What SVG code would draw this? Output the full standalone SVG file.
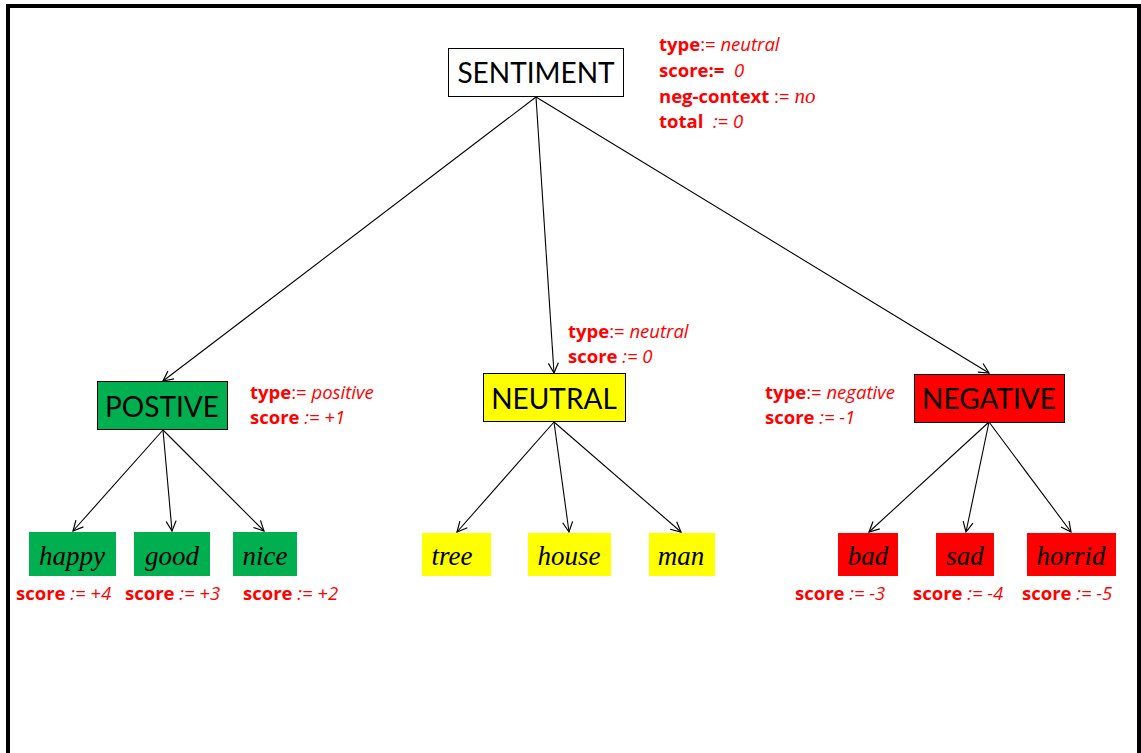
<svg xmlns="http://www.w3.org/2000/svg" width="1141" height="753" viewBox="0 0 1141 753">
  <defs>
    <marker id="arrow" viewBox="0 0 12 12" refX="11" refY="6" markerWidth="12" markerHeight="12" markerUnits="userSpaceOnUse" orient="auto">
      <path d="M1,1 L11,6 L1,11" fill="none" stroke="#000" stroke-width="1.2"/>
    </marker>
  </defs>
  <style>
    .box { stroke: #000; stroke-width: 1; }
    .leaf { stroke: none; }
    .green { fill: #00B050; }
    .yellow { fill: #FFFF00; }
    .red { fill: #FF0000; }
    .white { fill: #fff; }
    .title { font-family: Lato, "Liberation Sans", sans-serif; font-size: 28px; fill: #000; text-anchor: middle; }
    .word { font-family: "Liberation Serif", serif; font-style: italic; font-size: 27px; fill: #000; text-anchor: middle; }
    .attr { font-family: "Open Sans", "Liberation Sans", sans-serif; font-size: 18.5px; fill: #FF0000; }
    .k { font-weight: bold; }
    .v { font-style: italic; }
    .serif { font-family: "Liberation Serif", serif; font-style: italic; font-size: 21px; }
    .edge { stroke: #000; stroke-width: 1.1; fill: none; marker-end: url(#arrow); }
  </style>

  <!-- page frame (open at the bottom) -->
  <rect class="white" x="0" y="0" width="1141" height="753"/>
  <path d="M8,753 V6 H1139 V753" fill="none" stroke="#000" stroke-width="4"/>

  <!-- connectors -->
  <g id="connectors">
    <line class="edge" x1="536" y1="97" x2="163" y2="381"/>
    <line class="edge" x1="536" y1="97" x2="554" y2="373"/>
    <line class="edge" x1="536" y1="97" x2="989" y2="373"/>
    <line class="edge" x1="163" y1="430" x2="73" y2="531"/>
    <line class="edge" x1="163" y1="430" x2="172" y2="531"/>
    <line class="edge" x1="163" y1="430" x2="264" y2="531"/>
    <line class="edge" x1="554" y1="422" x2="457" y2="532"/>
    <line class="edge" x1="554" y1="422" x2="569" y2="532"/>
    <line class="edge" x1="554" y1="422" x2="681" y2="532"/>
    <line class="edge" x1="989" y1="422" x2="869" y2="532"/>
    <line class="edge" x1="989" y1="422" x2="966" y2="532"/>
    <line class="edge" x1="989" y1="422" x2="1071" y2="532"/>
  </g>

  <!-- root -->
  <g id="sentiment">
    <rect class="box white" x="448.5" y="48.5" width="175" height="48"/>
    <text class="title" x="536" y="83">SENTIMENT</text>
    <text class="attr" x="659" y="51"><tspan class="k">type</tspan><tspan>:= </tspan><tspan class="v">neutral</tspan></text>
    <text class="attr" x="659" y="77"><tspan class="k">score:=</tspan><tspan class="v" xml:space="preserve">  0</tspan></text>
    <text class="attr" x="659" y="103"><tspan class="k">neg-context</tspan><tspan xml:space="preserve"> := </tspan><tspan class="serif">no</tspan></text>
    <text class="attr" x="659" y="128"><tspan class="k">total</tspan><tspan class="v" xml:space="preserve">  := 0</tspan></text>
  </g>

  <!-- category nodes -->
  <g id="positive">
    <rect class="box green" x="97.5" y="381.5" width="130" height="48"/>
    <text class="title" x="162" y="417">POSTIVE</text>
    <text class="attr" x="250" y="399"><tspan class="k">type</tspan><tspan>:= </tspan><tspan class="v">positive</tspan></text>
    <text class="attr" x="250" y="424"><tspan class="k">score</tspan><tspan class="v" xml:space="preserve"> := +1</tspan></text>
  </g>
  <g id="neutral">
    <rect class="box yellow" x="483.5" y="373.5" width="142" height="48"/>
    <text class="title" x="554" y="409">NEUTRAL</text>
    <text class="attr" x="568" y="338"><tspan class="k">type</tspan><tspan>:= </tspan><tspan class="v">neutral</tspan></text>
    <text class="attr" x="568" y="363"><tspan class="k">score</tspan><tspan class="v" xml:space="preserve"> := 0</tspan></text>
  </g>
  <g id="negative">
    <rect class="box red" x="914.5" y="374.5" width="150" height="48"/>
    <text class="title" x="989" y="409">NEGATIVE</text>
    <text class="attr" x="765" y="399"><tspan class="k">type</tspan><tspan>:= </tspan><tspan class="v">negative</tspan></text>
    <text class="attr" x="765" y="424"><tspan class="k">score</tspan><tspan class="v" xml:space="preserve"> := -1</tspan></text>
  </g>

  <!-- leaf words -->
  <g id="happy">
    <rect class="leaf green" x="29" y="532" width="87" height="44"/>
    <text class="word" x="72" y="565">happy</text>
    <text class="attr" x="16" y="600"><tspan class="k">score</tspan><tspan class="v" xml:space="preserve"> := +4</tspan></text>
  </g>
  <g id="good">
    <rect class="leaf green" x="134" y="532" width="76" height="44"/>
    <text class="word" x="172" y="565">good</text>
    <text class="attr" x="125" y="600"><tspan class="k">score</tspan><tspan class="v" xml:space="preserve"> := +3</tspan></text>
  </g>
  <g id="nice">
    <rect class="leaf green" x="233" y="532" width="64" height="44"/>
    <text class="word" x="265" y="565">nice</text>
    <text class="attr" x="243" y="600"><tspan class="k">score</tspan><tspan class="v" xml:space="preserve"> := +2</tspan></text>
  </g>
  <g id="tree">
    <rect class="leaf yellow" x="422" y="533" width="69" height="43"/>
    <text class="word" x="452" y="565">tree</text>
  </g>
  <g id="house">
    <rect class="leaf yellow" x="528" y="533" width="83" height="43"/>
    <text class="word" x="569" y="565">house</text>
  </g>
  <g id="man">
    <rect class="leaf yellow" x="649" y="533" width="66" height="43"/>
    <text class="word" x="681" y="565">man</text>
  </g>
  <g id="bad">
    <rect class="leaf red" x="838" y="533" width="60" height="43"/>
    <text class="word" x="868" y="565">bad</text>
    <text class="attr" x="795" y="600"><tspan class="k">score</tspan><tspan class="v" xml:space="preserve"> := -3</tspan></text>
  </g>
  <g id="sad">
    <rect class="leaf red" x="936" y="533" width="58" height="43"/>
    <text class="word" x="965" y="565">sad</text>
    <text class="attr" x="913" y="600"><tspan class="k">score</tspan><tspan class="v" xml:space="preserve"> := -4</tspan></text>
  </g>
  <g id="horrid">
    <rect class="leaf red" x="1027" y="533" width="89" height="43"/>
    <text class="word" x="1071" y="565">horrid</text>
    <text class="attr" x="1022" y="600"><tspan class="k">score</tspan><tspan class="v" xml:space="preserve"> := -5</tspan></text>
  </g>
</svg>
